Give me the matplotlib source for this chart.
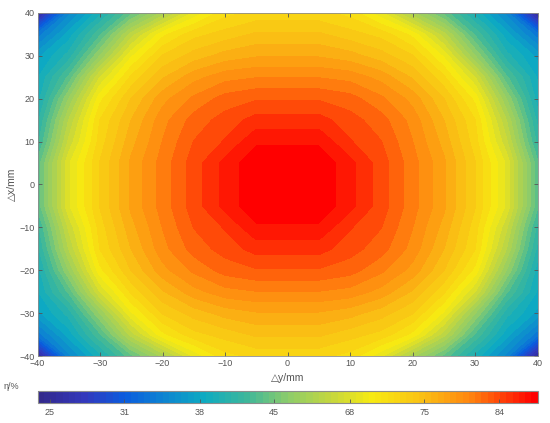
import numpy as np
import matplotlib
matplotlib.use("Agg")
import matplotlib.pyplot as plt
from matplotlib.colors import LinearSegmentedColormap, BoundaryNorm
from matplotlib.cm import ScalarMappable

plt.rcParams['font.family'] = ['Liberation Sans', 'DejaVu Sans']

dy_mm = [-40, -35, -30, -25, -20, -15, -10, -5, 0, 5, 10, 15, 20, 25, 30, 35, 40]
dx_mm = [40, 35, 30, 25, 20, 15, 10, 5, 0, -5, -10, -15, -20, -25, -30, -35, -40]

eta = [
 [24.4,34.1,38.8,43.5,53.7,68.3,71.1,71.9,71.9,71.9,71.1,68.3,53.7,43.5,38.8,34.1,24.4],
 [32.7,37.4,42.5,58.3,70.0,72.3,73.2,74.1,74.1,74.1,73.2,72.3,70.0,58.3,42.5,37.4,32.7],
 [36.5,39.7,49.1,69.0,72.8,74.4,75.7,76.4,76.4,76.4,75.7,74.4,72.8,69.0,49.1,39.7,36.5],
 [37.9,43.0,64.5,71.8,74.9,77.5,79.0,79.5,79.5,79.5,79.0,77.5,74.9,71.8,64.5,43.0,37.9],
 [38.6,49.1,70.0,73.9,77.5,79.9,81.7,82.4,82.4,82.4,81.7,79.9,77.5,73.9,70.0,49.1,38.6],
 [40.0,56.8,71.6,75.1,79.0,81.7,83.2,84.7,84.7,84.7,83.2,81.7,79.0,75.1,71.6,56.8,40.0],
 [41.1,61.4,72.1,76.0,79.6,82.6,84.2,86.8,86.8,86.8,84.2,82.6,79.6,76.0,72.1,61.4,41.1],
 [43.0,67.5,72.8,76.9,80.2,83.3,86.1,88.3,88.3,88.3,86.1,83.3,80.2,76.9,72.8,67.5,43.0],
 [43.0,67.5,72.8,76.9,80.2,83.3,86.1,88.3,88.3,88.3,86.1,83.3,80.2,76.9,72.8,67.5,43.0],
 [43.0,67.5,72.8,76.9,80.2,83.3,86.1,88.3,88.3,88.3,86.1,83.3,80.2,76.9,72.8,67.5,43.0],
 [41.1,61.4,72.1,76.0,79.6,82.6,84.2,86.8,86.8,86.8,84.2,82.6,79.6,76.0,72.1,61.4,41.1],
 [40.0,56.8,71.6,75.1,79.0,81.7,83.2,84.7,84.7,84.7,83.2,81.7,79.0,75.1,71.6,56.8,40.0],
 [38.6,49.1,70.0,73.9,77.5,79.9,81.7,82.4,82.4,82.4,81.7,79.9,77.5,73.9,70.0,49.1,38.6],
 [37.9,43.0,64.5,71.8,74.9,77.5,79.0,79.5,79.5,79.5,79.0,77.5,74.9,71.8,64.5,43.0,37.9],
 [36.5,39.7,49.1,69.0,72.8,74.4,75.7,76.4,76.4,76.4,75.7,74.4,72.8,69.0,49.1,39.7,36.5],
 [32.7,37.4,42.5,58.3,70.0,72.3,73.2,74.1,74.1,74.1,73.2,72.3,70.0,58.3,42.5,37.4,32.7],
 [24.4,34.1,38.8,43.5,53.7,68.3,71.1,71.9,71.9,71.9,71.1,68.3,53.7,43.5,38.8,34.1,24.4],
]
cbar_ticks = [25, 31, 38, 45, 68, 75, 84]
cbar_min, cbar_max = 24.04, 88.62

W, H = 550, 423
fig = plt.figure(figsize=(W/100, H/100), dpi=100)
L, R, T, B = 37.5, 537.5, 13, 356
ax = fig.add_axes([L/W, 1-B/H, (R-L)/W, (B-T)/H])
cax = fig.add_axes([L/W, 1-402.5/H, (R-L)/W, 11.5/H])

anchors = [(0, (.20,.16,.55)), (.09,(.20,.22,.74)), (.17,(.04,.36,.87)), (.25,(.05,.52,.82)),
           (.33,(.05,.67,.76)), (.42,(.25,.72,.60)), (.50,(.55,.80,.42)), (.60,(.80,.85,.22)),
           (.67,(.97,.92,.07)), (.77,(.98,.76,.08)), (.87,(1,.52,.06)), (.93,(1,.27,.03)), (1,(1,0,0))]
cmap = LinearSegmentedColormap.from_list('eta', anchors, N=256)

# the colour bar is not linear in eta: contour in colour position
tick_frac = (np.arange(len(cbar_ticks)) * 0.15 + 0.024)
frac_all = np.r_[0, tick_frac, 1]
vals_all = np.r_[cbar_min, cbar_ticks, cbar_max]

nb = 40
frac = np.linspace(0, 1, nb + 1)
colors = [cmap(f) for f in frac[1:]]
eta_pos = np.interp(np.asarray(eta), vals_all, frac_all)
ax.contourf(dy_mm, dx_mm, eta_pos, levels=frac, colors=colors, antialiased=False)

grey = '#555555'
ax.set_xlim(-40, 40)
ax.set_ylim(-40, 40)
ax.set_xticks(range(-40, 41, 10))
ax.set_yticks(range(-40, 41, 10))
ax.tick_params(direction='in', top=True, right=True, length=3, width=0.6,
               labelsize=6.5, colors=grey, pad=2)
ax.set_xlabel('△y/mm', fontsize=7.5, color=grey, labelpad=4)
ax.set_ylabel('△x/mm', fontsize=7.5, color=grey, labelpad=2)
for s in ax.spines.values():
    s.set_linewidth(0.6)
    s.set_color('#8c8c8c')

nf = 80
lf = np.interp(np.linspace(0, 1, nf + 1), frac_all, vals_all)
sm = ScalarMappable(BoundaryNorm(lf, nf), LinearSegmentedColormap.from_list('f', anchors, N=nf))
cb = fig.colorbar(sm, cax=cax, orientation='horizontal', spacing='uniform', ticks=cbar_ticks)
cb.set_ticklabels([str(t) for t in cbar_ticks])
cb.ax.minorticks_off()
cax.tick_params(direction='in', length=3, width=0.6, labelsize=6.5, colors=grey, pad=4, which='major')
cb.outline.set_linewidth(0.8)
cb.outline.set_edgecolor('#8c8c8c')

fig.text(4/W, 1-386/H, 'η/%', fontsize=6.5, color=grey, va='center', ha='left')
fig.savefig('out.png', dpi=100)
